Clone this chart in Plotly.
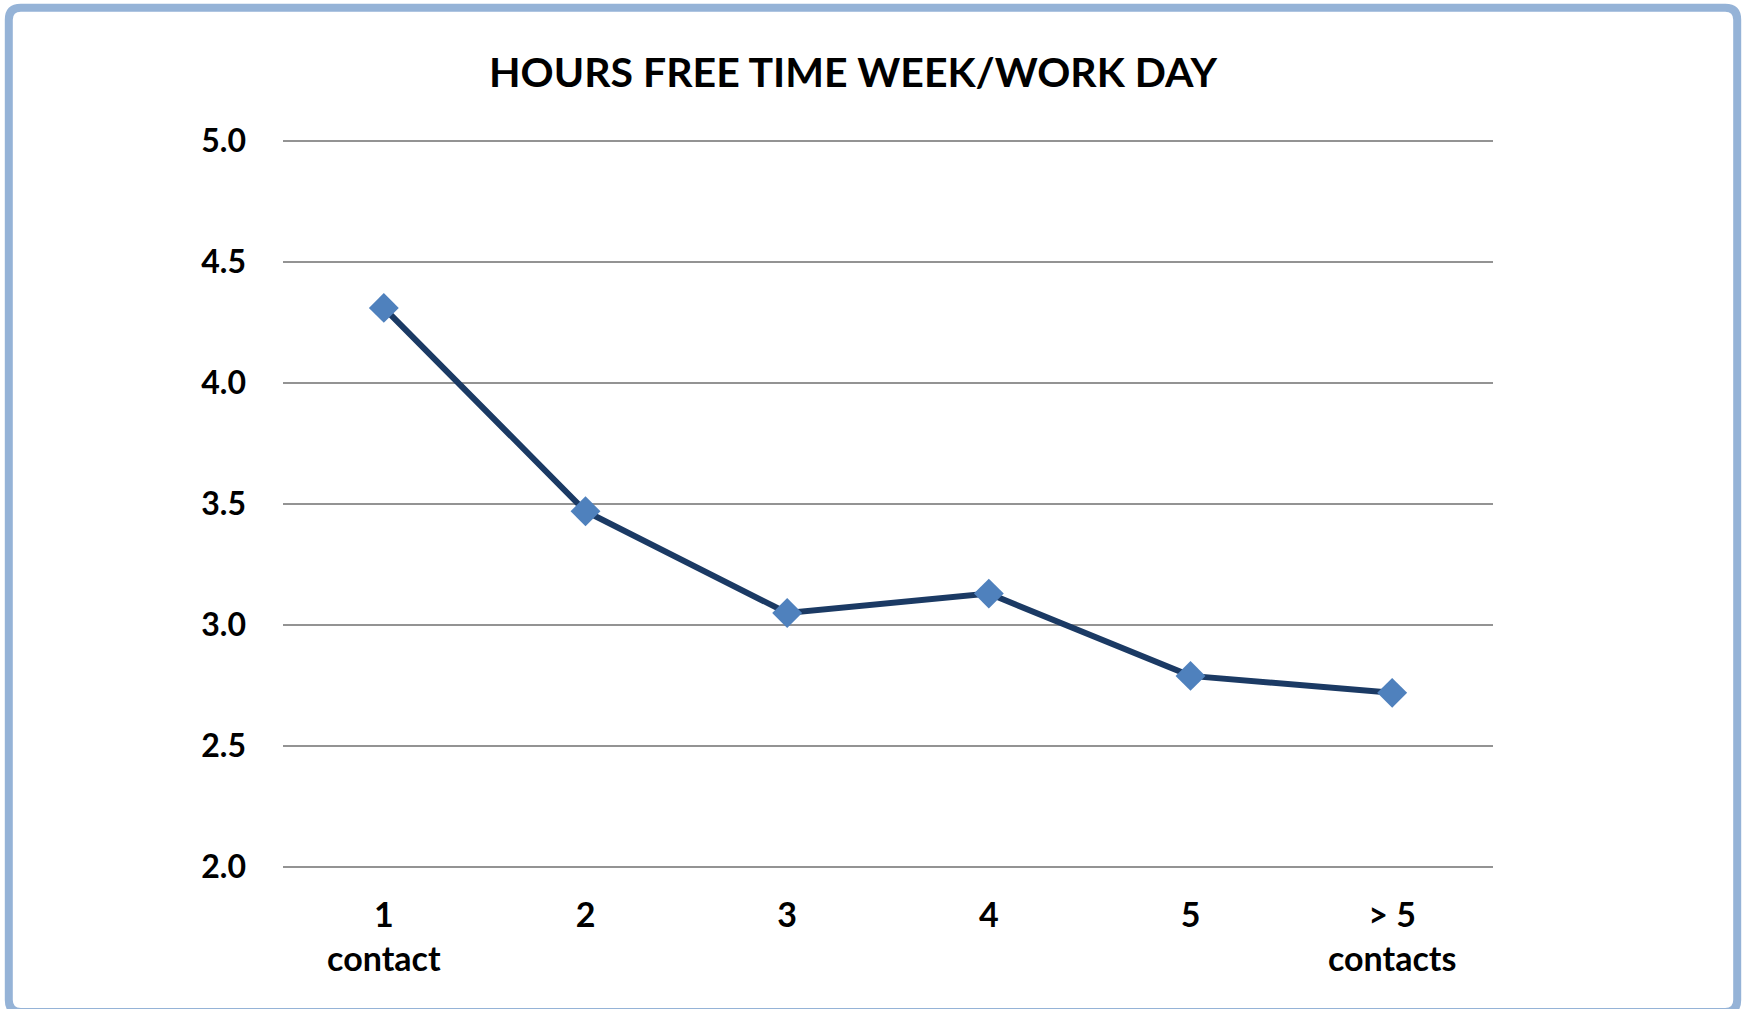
import plotly.graph_objects as go

# ---- data ----
categories = ["1", "2", "3", "4", "5", ">5"]
tick_labels = ["1<br>contact", "2", "3", "4", "5", "> 5<br>contacts"]
hours = [4.31, 3.47, 3.05, 3.13, 2.79, 2.72]
y_ticks = [2.0, 2.5, 3.0, 3.5, 4.0, 4.5, 5.0]
title_text = "HOURS FREE TIME WEEK/WORK DAY"

# ---- layout geometry ----
W, H = 1747, 1009
Y_LO, Y_HI = 1.98, 5.02
Y5_PX, Y2_PX = 140.4, 866.8          # pixel rows of the 5.0 and 2.0 gridlines
ppu = (Y2_PX - Y5_PX) / 3.0
T = Y5_PX - (Y_HI - 5.0) * ppu
B = H - (Y2_PX + (2.0 - Y_LO) * ppu)
L, R = 283, 254
PW, PH = W - L - R, H - T - B

def px(x):
    return (x - L) / PW

def py(y):
    return ((H - B) - y) / PH

FONT = "Lato"
BORDER = "#95B3D7"

fig = go.Figure()
fig.add_trace(go.Scatter(
    x=categories, y=hours, mode="lines+markers",
    line=dict(color="#1B3A64", width=6),
    marker=dict(symbol="diamond", size=23, color="#4F81BD",
                line=dict(width=0)),
    showlegend=False, hoverinfo="x+y",
))

# rounded border (frame around whole chart)
x0, x1, y0, y1, r = 8.8, 1737.2, 7.2, 1011.6, 12
path = (
    f"M {px(x0+r)},{py(y0)} L {px(x1-r)},{py(y0)} "
    f"Q {px(x1)},{py(y0)} {px(x1)},{py(y0+r)} "
    f"L {px(x1)},{py(y1-r)} Q {px(x1)},{py(y1)} {px(x1-r)},{py(y1)} "
    f"L {px(x0+r)},{py(y1)} Q {px(x0)},{py(y1)} {px(x0)},{py(y1-r)} "
    f"L {px(x0)},{py(y0+r)} Q {px(x0)},{py(y0)} {px(x0+r)},{py(y0)} Z"
)
fig.add_shape(type="path", path=path, xref="paper", yref="paper",
              line=dict(color=BORDER, width=8), layer="below")

fig.update_layout(
    width=W, height=H,
    margin=dict(l=L, r=R, t=T, b=B, pad=0),
    paper_bgcolor="white", plot_bgcolor="white",
    title=dict(text=title_text, x=853 / W, xanchor="center",
               y=1 - 72.5 / H, yanchor="middle", xref="container", yref="container",
               font=dict(family=FONT, size=41, color="black", weight="bold")),
    font=dict(family=FONT, color="black"),
    xaxis=dict(
        type="category", categoryorder="array", categoryarray=categories,
        tickmode="array", tickvals=categories, ticktext=tick_labels,
        range=[-0.5, 5.5], showgrid=False, zeroline=False, showline=False,
        ticks="", ticklabelstandoff=20,
        tickfont=dict(family=FONT, size=34, color="black", weight="bold"),
    ),
    yaxis=dict(
        range=[Y_LO, Y_HI], tickmode="array", tickvals=y_ticks,
        ticktext=[f"{v:.1f}" for v in y_ticks],
        showgrid=True, gridcolor="#939393", gridwidth=2,
        zeroline=False, showline=False, ticks="", ticklabelstandoff=36,
        tickfont=dict(family=FONT, size=32, color="black", weight="bold"),
    ),
)

fig.write_html(
    "out.html",
    config={"displayModeBar": False},
    post_script="document.body.style.margin='0';document.body.style.overflow='hidden';",
)
